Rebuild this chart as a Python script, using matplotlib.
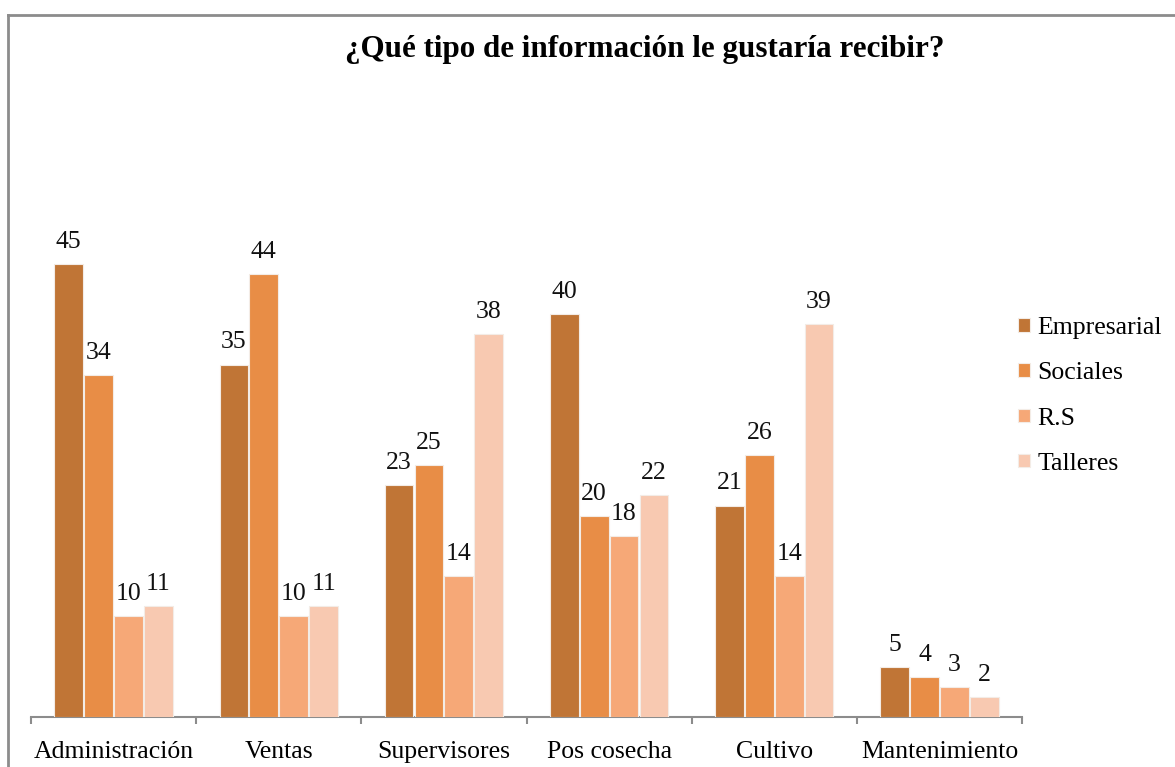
import matplotlib
matplotlib.use("Agg")
import matplotlib.pyplot as plt
from matplotlib.lines import Line2D
import numpy as np

# Datos
categorias = ["Administración", "Ventas", "Supervisores", "Pos cosecha", "Cultivo", "Mantenimiento"]
empresarial = [45, 35, 23, 40, 21, 5]
sociales = [34, 44, 25, 20, 26, 4]
rs = [10, 10, 14, 18, 14, 3]
talleres = [11, 11, 38, 22, 39, 2]

series = ["Empresarial", "Sociales", "R.S", "Talleres"]
colores = ["#C07536", "#E88D46", "#F6A877", "#F8C9B1"]

plt.rcParams['font.family'] = ['Liberation Serif', 'DejaVu Serif']

fig = plt.figure(figsize=(11.75, 7.67), dpi=100)
ax = fig.add_axes([31/1175, 1-717/767, (1022-31)/1175, (717-130)/767])

x = np.arange(len(categorias))
paso = 0.181
ancho = 0.174
for i, (nombre, valores) in enumerate(zip(series, [empresarial, sociales, rs, talleres])):
    pos = x + (i - 1.5) * paso
    barras = ax.bar(pos, valores, ancho, color=colores[i], label=nombre,
                    edgecolor="#f3ece6", linewidth=0.8, zorder=3)
    for b, v in zip(barras, valores):
        ax.annotate(str(v), (b.get_x() + b.get_width()/2, v), xytext=(0, 8),
                    textcoords="offset points", ha="center", va="bottom",
                    fontsize=18.5, color="#111111")

ax.set_xlim(-0.5, len(categorias) - 0.5)
ax.set_ylim(0, 58.3)

for s in ["top", "right", "left"]:
    ax.spines[s].set_visible(False)
ax.spines["bottom"].set_color("#8c8c8c")
ax.spines["bottom"].set_linewidth(1.5)
ax.set_yticks([])

# marcas en los límites de cada categoría, etiquetas en el centro
ax.set_xticks(np.arange(len(categorias) + 1) - 0.5)
ax.set_xticklabels([])
ax.tick_params(axis="x", which="major", direction="out", length=5, width=1.5, color="#8c8c8c")
ax.set_xticks(x, minor=True)
ax.set_xticklabels(categorias, minor=True, fontsize=18.5)
ax.tick_params(axis="x", which="minor", length=0, pad=17)

fig.text(645/1175, 1-50/767, "¿Qué tipo de información le gustaría recibir?",
         ha="center", va="center", fontsize=22.4, fontweight="bold")

ax.legend(loc="center left", bbox_to_anchor=(995/1175, 1-396/767), bbox_transform=fig.transFigure,
          frameon=False, fontsize=18.5, handlelength=0.45, handleheight=0.45,
          handletextpad=0.3, labelspacing=0.9)

# marco del gráfico
fig.add_artist(Line2D([8/1175, 8/1175], [0, 1-15/767], transform=fig.transFigure, color="#8c8c8c", lw=2))
fig.add_artist(Line2D([8/1175, 1], [1-15/767, 1-15/767], transform=fig.transFigure, color="#8c8c8c", lw=2))

plt.savefig("out.png", dpi=100)
plt.close()
